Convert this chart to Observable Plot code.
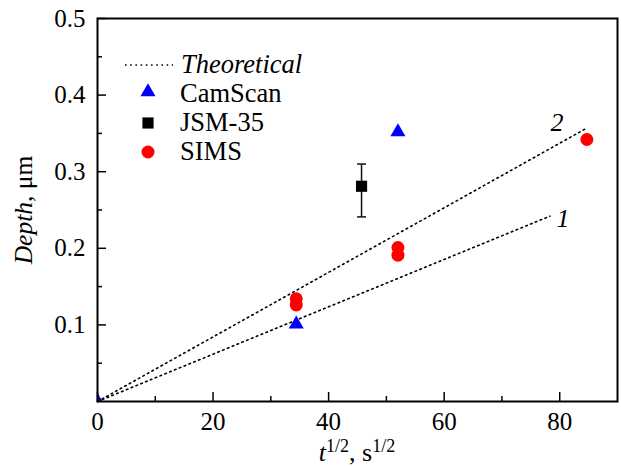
<!DOCTYPE html>
<html>
<head>
<meta charset="utf-8">
<script src="https://cdn.jsdelivr.net/npm/d3@7"></script>
<script src="https://cdn.jsdelivr.net/npm/@observablehq/plot@0.6"></script>
<style>
  html, body { margin: 0; padding: 0; background: #fff; }
  #chart { position: relative; width: 621px; height: 466px; }
  #chart svg, #chart svg text, #chart svg tspan { font-family: "Liberation Serif", "DejaVu Serif", "Times New Roman", Times, serif !important; }
</style>
</head>
<body>
<div id="chart"></div>
<script>
// ---- data ----
const camScanX = [0, 34.4, 52];
const camScanY = [0, 0.101, 0.352];

const jsmX = [45.7];
const jsmY = [0.281];
const jsmLo = [0.241];
const jsmHi = [0.31];

const simsX = [34.4, 34.4, 52, 52, 84.7];
const simsY = [0.134, 0.126, 0.201, 0.191, 0.342];

const theory1X = [0, 78.3];
const theory1Y = [0, 0.242];
const theory2X = [0, 84.7];
const theory2Y = [0, 0.357];
const theoryLabels = ["1", "2"];

const xMajor = [0, 20, 40, 60, 80];
const xMinor = [10, 30, 50, 70];
const yMajor = [0.1, 0.2, 0.3, 0.4, 0.5];
const yMinor = [0.05, 0.15, 0.25, 0.35, 0.45];
const yLabelTicks = [0.1, 0.2, 0.3, 0.4, 0.5];

const legendItems = ["Theoretical", "CamScan", "JSM-35", "SIMS"];

// ---- build tables ----
const camScan = camScanX.map((x, i) => ({x, y: camScanY[i]}));
const jsm = jsmX.map((x, i) => ({x, y: jsmY[i], lo: jsmLo[i], hi: jsmHi[i]}));
const sims = simsX.map((x, i) => ({x, y: simsY[i]}));
const theory = [
  ...theory1X.map((x, i) => ({x, y: theory1Y[i], id: theoryLabels[0]})),
  ...theory2X.map((x, i) => ({x, y: theory2Y[i], id: theoryLabels[1]}))
];
const theoryEnds = [
  {x: theory1X[theory1X.length - 1], y: theory1Y[theory1Y.length - 1], id: theoryLabels[0]},
  {x: theory2X[theory2X.length - 1], y: theory2Y[theory2Y.length - 1], id: theoryLabels[1]}
];
const capSymbol = {draw(ctx) { ctx.moveTo(-4.5, 0); ctx.lineTo(4.5, 0); }};

const font = "Liberation Serif, DejaVu Serif, serif";

const plot = Plot.plot({
  width: 621,
  height: 466,
  marginLeft: 97,
  marginRight: 4,
  marginTop: 18,
  marginBottom: 65,
  style: {fontSize: "25px", background: "#fff", color: "#000"},
  x: {domain: [0, 90]},
  y: {domain: [0, 0.5]},
  marks: [
    // ticks (inward)
    Plot.axisX({ticks: xMajor, tickSize: -9, text: null, label: null, strokeWidth: 1.5}),
    Plot.axisX({ticks: xMinor, tickSize: -5, text: null, label: null, strokeWidth: 1.5}),
    Plot.axisY({ticks: yMajor, tickSize: -9, text: null, label: null, strokeWidth: 1.5}),
    Plot.axisY({ticks: yMinor, tickSize: -5, text: null, label: null, strokeWidth: 1.5}),
    // tick labels
    Plot.axisX({ticks: xMajor, tickSize: 0, tickPadding: 11, label: null, fontSize: 25, tickFormat: d => String(d)}),
    Plot.axisY({ticks: yLabelTicks, tickSize: 0, tickPadding: 12, label: null, fontSize: 25, tickFormat: d => d.toFixed(1)}),
    // theoretical lines
    Plot.line(theory, {x: "x", y: "y", z: "id", stroke: "#000", strokeWidth: 1.6, strokeDasharray: "1.6,3.6"}),
    Plot.text(theoryEnds, {x: "x", y: "y", text: "id", fontStyle: "italic", fontSize: 26,
      filter: d => d.id === "1", dx: 13, dy: 3}),
    Plot.text(theoryEnds, {x: "x", y: "y", text: "id", fontStyle: "italic", fontSize: 26,
      filter: d => d.id === "2", dx: -30, dy: -5}),
    // error bar
    Plot.link(jsm, {x1: "x", x2: "x", y1: "lo", y2: "hi", stroke: "#111", strokeWidth: 1.5}),
    Plot.dot(jsm, {x: "x", y: "lo", symbol: capSymbol, stroke: "#111", strokeWidth: 1.5, fill: "none", r: 4}),
    Plot.dot(jsm, {x: "x", y: "hi", symbol: capSymbol, stroke: "#111", strokeWidth: 1.5, fill: "none", r: 4}),
    // data
    Plot.dot(sims, {x: "x", y: "y", symbol: "circle", r: 6.5, fill: "#ff0000", stroke: "none"}),
    Plot.dot(jsm, {x: "x", y: "y", symbol: "square", r: 6.3, fill: "#000", stroke: "none"}),
    Plot.dot(camScan, {x: "x", y: "y", symbol: "triangle", r: 5.6, fill: "#0000ff", stroke: "none", clip: true}),
    Plot.frame({stroke: "#000", strokeWidth: 2})
  ]
});

document.getElementById("chart").appendChild(plot);

// ---- legend and axis titles ----
const svg = d3.select(plot);
const ns = svg.append("g").attr("font-family", font).attr("fill", "#000").attr("text-anchor", "start");

// legend
const lg = ns.append("g").attr("font-size", 26.5);
lg.append("line").attr("x1", 125).attr("x2", 173).attr("y1", 65).attr("y2", 65)
  .attr("stroke", "#000").attr("stroke-width", 1.6).attr("stroke-dasharray", "1.6,3.6");
lg.append("text").attr("x", 181).attr("y", 73).attr("font-style", "italic").text(legendItems[0]);
const area = r => Math.PI * r * r;
lg.append("path").attr("transform", "translate(148,92)")
  .attr("d", d3.symbol(d3.symbolTriangle, area(5.6))()).attr("fill", "#0000ff");
lg.append("text").attr("x", 180).attr("y", 102).text(legendItems[1]);
lg.append("path").attr("transform", "translate(148,123)")
  .attr("d", d3.symbol(d3.symbolSquare, area(6.3))()).attr("fill", "#000");
lg.append("text").attr("x", 180).attr("y", 131).text(legendItems[2]);
lg.append("path").attr("transform", "translate(148,152)")
  .attr("d", d3.symbol(d3.symbolCircle, area(6.5))()).attr("fill", "#ff0000");
lg.append("text").attr("x", 180).attr("y", 160).text(legendItems[3]);

// x axis title
const xt = ns.append("text").attr("x", 357).attr("y", 461).attr("text-anchor", "middle").attr("font-size", 26);
xt.append("tspan").attr("font-style", "italic").text("t");
xt.append("tspan").attr("font-size", 18).attr("dy", -9).text("1/2");
xt.append("tspan").attr("dy", 9).text(", s");
xt.append("tspan").attr("font-size", 18).attr("dy", -9).text("1/2");

// y axis title
const yt = ns.append("text").attr("transform", "translate(32,210) rotate(-90)")
  .attr("text-anchor", "middle").attr("font-size", 25.5);
yt.append("tspan").attr("font-style", "italic").text("Depth");
yt.append("tspan").text(", μm");
</script>
</body>
</html>
